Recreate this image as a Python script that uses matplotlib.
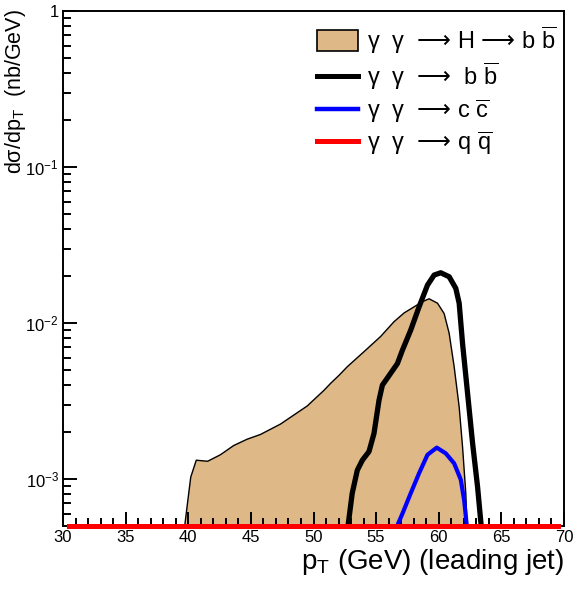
import matplotlib
matplotlib.use("Agg")
import matplotlib.pyplot as plt
from matplotlib.patches import Patch
from matplotlib.lines import Line2D
from matplotlib.ticker import FixedLocator, FuncFormatter, LogLocator, MultipleLocator
import numpy as np

plt.rcParams["font.family"] = ["Liberation Sans", "DejaVu Sans"]
plt.rcParams["mathtext.fontset"] = "custom"
plt.rcParams["mathtext.rm"] = "Liberation Sans"
plt.rcParams["mathtext.it"] = "Liberation Sans"
plt.rcParams["mathtext.bf"] = "Liberation Sans:bold"
plt.rcParams["mathtext.sf"] = "DejaVu Sans"
plt.rcParams["mathtext.fallback"] = "stix"

# gamma gamma -> H -> b bbar (filled)
h_x = [39.57, 39.9, 40.2, 40.64, 41.55, 42.56, 43.63, 44.7, 45.76, 47.36, 49.5,
       50.83, 51.36, 52.07, 52.7, 54.03, 55.36, 56.43, 57.23, 58.03, 58.7, 59.23,
       59.9, 60.43, 60.83, 61.23, 61.63, 61.9, 62.16, 62.3]
h_y = [4.0e-4, 6.6e-4, 1.03e-3, 1.32e-3, 1.30e-3, 1.43e-3, 1.64e-3, 1.8e-3, 1.93e-3,
       2.25e-3, 2.94e-3, 3.7e-3, 4.1e-3, 4.65e-3, 5.25e-3, 6.55e-3, 8.2e-3, 1.02e-2,
       1.16e-2, 1.27e-2, 1.37e-2, 1.43e-2, 1.34e-2, 1.15e-2, 8.6e-3, 5.25e-3,
       2.9e-3, 1.61e-3, 8.1e-4, 4.0e-4]

# gamma gamma -> b bbar
bb_x = [52.6, 53.09, 53.5, 53.9, 54.43, 54.83, 55.23, 55.5, 56.03, 56.7, 57.1,
        57.76, 58.43, 59.1, 59.63, 60.16, 60.83, 61.36, 61.63, 61.9, 62.3, 62.7,
        63.1, 63.5]
bb_y = [4.0e-4, 8.1e-4, 1.14e-3, 1.32e-3, 1.5e-3, 1.96e-3, 3.2e-3, 4.0e-3, 4.6e-3,
        5.5e-3, 6.7e-3, 9.0e-3, 1.27e-2, 1.75e-2, 2.03e-2, 2.1e-2, 1.98e-2, 1.67e-2,
        1.34e-2, 7.4e-3, 3.55e-3, 1.7e-3, 8.9e-4, 4.0e-4]

# gamma gamma -> c cbar
cc_x = [56.43, 57.1, 57.76, 58.43, 59.1, 59.84, 60.56, 61.23, 61.76, 62.03, 62.3]
cc_y = [4.5e-4, 6.0e-4, 8.1e-4, 1.09e-3, 1.43e-3, 1.59e-3, 1.46e-3, 1.26e-3,
        9.9e-4, 7.3e-4, 4.5e-4]

# gamma gamma -> q qbar (below the plotted range)
qq_x = np.arange(30.5, 70.0, 1.0)
qq_y = np.zeros(len(qq_x))

ymin, ymax = 5e-4, 1.0
tan = "#DEB887"

fig = plt.figure(figsize=(5.74, 5.89), dpi=100)
ax = fig.add_axes([63 / 574, 1 - 526 / 589, 501 / 574, 515 / 589])

ax.fill_between(h_x, 1e-5, h_y, facecolor=tan, edgecolor="none", zorder=1)
ax.plot(h_x, h_y, color="black", lw=1.0, zorder=2)
ax.plot(bb_x, bb_y, color="black", lw=3.8, zorder=3, solid_joinstyle="round")
ax.plot(cc_x, cc_y, color="blue", lw=3.0, zorder=4, solid_joinstyle="round")
ax.plot(qq_x, np.maximum(qq_y, ymin), color="red", lw=3.6, zorder=5, clip_on=False)

ax.set_yscale("log")
ax.set_xlim(30, 70)
ax.set_ylim(ymin, ymax)

for s in ax.spines.values():
    s.set_linewidth(1.4)

ax.xaxis.set_major_locator(MultipleLocator(5))
ax.xaxis.set_minor_locator(MultipleLocator(1))
ax.yaxis.set_major_locator(FixedLocator([1e-3, 1e-2, 1e-1, 1]))
ax.yaxis.set_minor_locator(LogLocator(base=10, subs=np.arange(2, 10)))
ax.yaxis.set_minor_formatter(FuncFormatter(lambda v, p: ""))
ax.yaxis.set_major_formatter(FuncFormatter(
    lambda v, p: "1" if v == 1 else r"$10^{%d}$" % round(np.log10(v))))

ax.tick_params(which="both", direction="in", top=False, right=False, labelsize=12, width=1.4)
ax.tick_params(which="major", length=10)
ax.tick_params(which="minor", length=5.5)
ax.tick_params(axis="x", pad=3)
ax.tick_params(axis="y", pad=3)

ax.set_xlabel(r"p$_{\mathrm{T}}$ (GeV) (leading jet)", fontsize=20, loc="right", labelpad=1)
ax.set_ylabel(r"d$\sigma$/dp$_{\mathrm{T}}$  (nb/GeV)", fontsize=15.5, loc="top")
ax.yaxis.set_label_coords(-0.07, 1.003)

handles = [
    Patch(facecolor=tan, edgecolor="black", lw=1.2),
    Line2D([], [], color="black", lw=3.6),
    Line2D([], [], color="blue", lw=3.2),
    Line2D([], [], color="red", lw=3.6),
]
arrow = r"$\mathsf{⟶}$"
labels = [
    "γ  γ  " + arrow + r" H " + arrow + r" b $\overline{\mathrm{b}}$",
    "γ  γ  " + arrow + r"  b $\overline{\mathrm{b}}$",
    "γ  γ  " + arrow + r" c $\overline{\mathrm{c}}$",
    "γ  γ  " + arrow + r" q $\overline{\mathrm{q}}$",
]
ax.legend(handles, labels, loc="upper left", bbox_to_anchor=(0.507, 0.975),
          frameon=False, fontsize=17, handlelength=1.75, handleheight=1.0,
          handletextpad=0.35, labelspacing=0.2, borderpad=0, borderaxespad=0)

fig.savefig("out.png", dpi=100)
